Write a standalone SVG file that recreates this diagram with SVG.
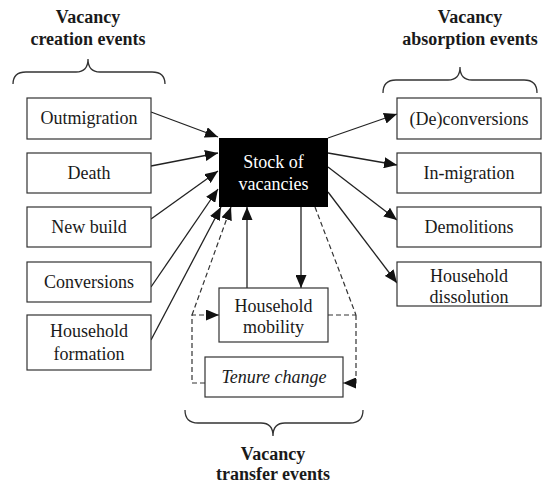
<svg xmlns="http://www.w3.org/2000/svg" width="543" height="484" viewBox="0 0 543 484">
<style>
.box{fill:#fff;stroke:#333;stroke-width:1.2}
.ln{fill:none;stroke:#222;stroke-width:1.3}
.ds{fill:none;stroke:#333;stroke-width:1.2;stroke-dasharray:5,3}
.br{fill:none;stroke:#333;stroke-width:1.3}
</style>
<defs>
<marker id="ah" markerUnits="userSpaceOnUse" markerWidth="13" markerHeight="11" refX="13" refY="5.5" orient="auto">
<path d="M0,0 L13,5.5 L0,11 z" fill="#111"/>
</marker>
</defs>
<rect width="543" height="484" fill="#fff"/>

<g id="titles" font-family="Liberation Serif, Times New Roman, serif" font-size="18" font-weight="bold" fill="#1a1a1a" text-anchor="middle">
<text x="88" y="23">Vacancy</text>
<text x="88" y="45">creation events</text>
<text x="470" y="23">Vacancy</text>
<text x="470" y="45">absorption events</text>
<text x="273" y="460">Vacancy</text>
<text x="273" y="480">transfer events</text>
</g>
<g id="braces">
<path class="br" d="M13,84 Q13,72 26,72 L76,72 Q88,72 88,59 Q88,72 100,72 L152,72 Q165,72 165,84"/>
<path class="br" d="M383,93 Q383,80 396,80 L448,80 Q460,80 460,67 Q460,80 472,80 L524,80 Q537,80 537,93"/>
<path class="br" d="M185,410 Q185,423 198,423 L261,423 Q273,423 273,436 Q273,423 285,423 L350,423 Q363,423 363,410"/>
</g>

<g id="connectors">
<line class="ln" x1="151" y1="112" x2="218" y2="137" marker-end="url(#ah)"/>
<line class="ln" x1="151" y1="166" x2="218" y2="153" marker-end="url(#ah)"/>
<line class="ln" x1="151" y1="219" x2="218" y2="171" marker-end="url(#ah)"/>
<line class="ln" x1="151" y1="287" x2="218" y2="189" marker-end="url(#ah)"/>
<line class="ln" x1="151" y1="340" x2="221" y2="207" marker-end="url(#ah)"/>
<line class="ds" x1="192" y1="315" x2="231" y2="207" marker-end="url(#ah)"/>
<line class="ln" x1="247" y1="288" x2="247" y2="207" marker-end="url(#ah)"/>
<line class="ln" x1="301" y1="207" x2="301" y2="288" marker-end="url(#ah)"/>
<line class="ds" x1="315" y1="207" x2="356" y2="315"/>
<line class="ds" x1="328" y1="315" x2="356" y2="315"/>
<polyline class="ds" points="356,315 356,383 343,383" marker-end="url(#ah)"/>
<polyline class="ds" points="205,383 192,383 192,315 219,315" marker-end="url(#ah)"/>
<line class="ln" x1="328" y1="138" x2="397" y2="114" marker-end="url(#ah)"/>
<line class="ln" x1="328" y1="153" x2="397" y2="165" marker-end="url(#ah)"/>
<line class="ln" x1="328" y1="167" x2="397" y2="220" marker-end="url(#ah)"/>
<line class="ln" x1="328" y1="192" x2="397" y2="283" marker-end="url(#ah)"/>
</g>

<g id="stock" font-family="Liberation Serif, Times New Roman, serif" font-size="18" fill="#fff" text-anchor="middle">
<rect x="219" y="138" width="109" height="69" fill="#000"/>
<text x="273.5" y="168">Stock of</text>
<text x="273.5" y="190">vacancies</text>
</g>

<g font-family="Liberation Serif, Times New Roman, serif" font-size="18" fill="#1a1a1a" text-anchor="middle">
<g id="outmigration"><rect class="box" x="27" y="98" width="124" height="41"/><text x="89" y="124">Outmigration</text></g>
<g id="death"><rect class="box" x="27" y="153" width="124" height="40"/><text x="89" y="179">Death</text></g>
<g id="newbuild"><rect class="box" x="27" y="207" width="124" height="40"/><text x="89" y="233">New build</text></g>
<g id="conversions"><rect class="box" x="27" y="262" width="124" height="40"/><text x="89" y="288">Conversions</text></g>
<g id="hhformation"><rect class="box" x="27" y="315" width="124" height="55"/><text x="89" y="337">Household</text><text x="89" y="360">formation</text></g>

<g id="deconversions"><rect class="box" x="397" y="98" width="144" height="41"/><text x="469" y="125">(De)conversions</text></g>
<g id="inmigration"><rect class="box" x="397" y="153" width="144" height="40"/><text x="469" y="179">In-migration</text></g>
<g id="demolitions"><rect class="box" x="397" y="207" width="144" height="40"/><text x="469" y="233">Demolitions</text></g>
<g id="hhdissolution"><rect class="box" x="397" y="262" width="144" height="44"/><text x="469" y="282">Household</text><text x="469" y="303">dissolution</text></g>

<g id="hhmobility"><rect class="box" x="219" y="288" width="109" height="54"/><text x="273.5" y="312">Household</text><text x="273.5" y="333">mobility</text></g>
<g id="tenure"><rect class="box" x="205" y="357" width="138" height="40"/><text x="274" y="383" font-style="italic">Tenure change</text></g>
</g>
</svg>
